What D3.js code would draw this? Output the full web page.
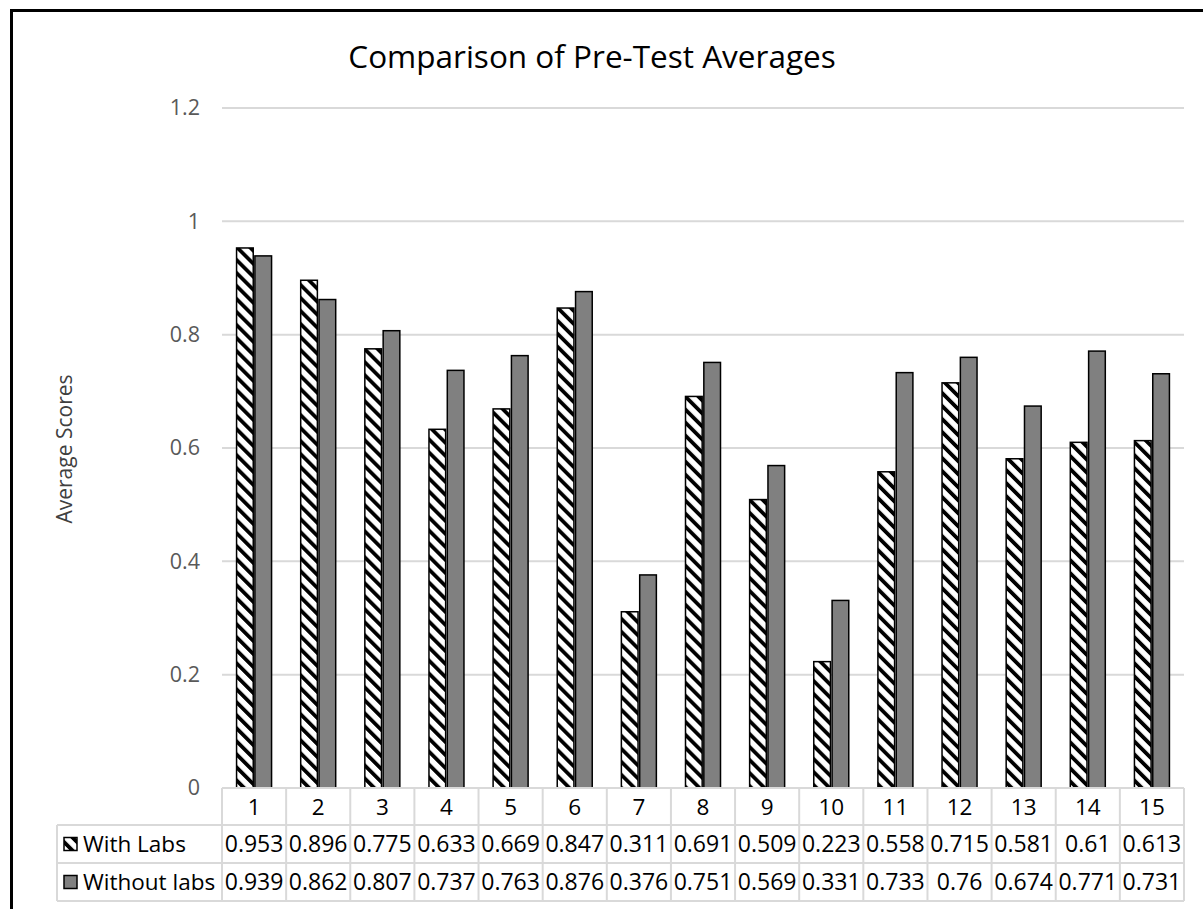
<!DOCTYPE html>
<html>
<head>
<meta charset="utf-8">
<script src="https://cdn.jsdelivr.net/npm/d3@7"></script>
<style>
  html, body { margin: 0; padding: 0; background: #fff; }
  svg { display: block; font-family: "Open Sans", "Liberation Sans", Arial, sans-serif; }
</style>
</head>
<body>
<svg id="chart" width="1203" height="909"></svg>
<script>
const categories = ["1","2","3","4","5","6","7","8","9","10","11","12","13","14","15"];
const withLabs    = [0.953,0.896,0.775,0.633,0.669,0.847,0.311,0.691,0.509,0.223,0.558,0.715,0.581,0.61,0.613];
const withoutLabs = [0.939,0.862,0.807,0.737,0.763,0.876,0.376,0.751,0.569,0.331,0.733,0.76,0.674,0.771,0.731];
const seriesNames = ["With Labs","Without labs"];
const yTicks = [0,0.2,0.4,0.6,0.8,1,1.2];

(function () {
const svg = d3.select("#chart");
const defs = svg.append("defs");
const pat = defs.append("pattern")
  .attr("id","hatch")
  .attr("patternUnits","userSpaceOnUse")
  .attr("width",9.2).attr("height",9.2)
  .attr("patternTransform","rotate(-45)");
pat.append("rect").attr("width",9.2).attr("height",9.2).attr("fill","#fff");
pat.append("rect").attr("x",0).attr("width",3.8).attr("height",9.2).attr("fill","#000");

const fills = ["url(#hatch)","#808080"];
const seriesData = [withLabs, withoutLabs];

// outer border
svg.append("rect").attr("x",11.5).attr("y",10.5).attr("width",1200).attr("height",905)
  .attr("fill","none").attr("stroke","#000").attr("stroke-width",3);

const pLeft = 222, pRight = 1184, pTop = 108, pBottom = 788;
const y = d3.scaleLinear().domain([0,1.2]).range([pBottom, pTop]);
const x0 = d3.scaleBand().domain(categories).range([pLeft, pRight]).padding(0);
const groupW = 35;
const x1 = d3.scaleBand().domain(seriesNames).range([0, groupW]).paddingInner(0.09);

// gridlines
svg.append("g").selectAll("line").data(yTicks.filter(d => d > 0)).join("line")
  .attr("x1",pLeft).attr("x2",pRight)
  .attr("y1",d => y(d)).attr("y2",d => y(d))
  .attr("stroke","#d9d9d9").attr("stroke-width",2);

// y axis labels
const yAxis = d3.axisLeft(y).tickValues(yTicks).tickSize(0).tickPadding(0).tickFormat(d => String(d));
const gy = svg.append("g").attr("transform","translate(200,0)").call(yAxis);
gy.select(".domain").remove();
gy.selectAll("text").attr("font-size",21.5).attr("fill","#595959")
  .attr("font-family","'Open Sans', 'Liberation Sans', Arial, sans-serif");

// bars
seriesNames.forEach((s, si) => {
  svg.append("g").selectAll("rect").data(categories).join("rect")
    .attr("x", c => x0(c) + (x0.bandwidth() - groupW)/2 + x1(s))
    .attr("width", x1.bandwidth())
    .attr("y", (c,i) => y(seriesData[si][i]))
    .attr("height", (c,i) => pBottom - y(seriesData[si][i]))
    .attr("fill", fills[si])
    .attr("stroke","#000").attr("stroke-width",1.5);
});

// title
svg.append("text").attr("x",592).attr("y",68).attr("text-anchor","middle")
  .attr("font-size",31.5).attr("fill","#000").text("Comparison of Pre-Test Averages");

// y axis title
svg.append("text").attr("transform","translate(72,449) rotate(-90)")
  .attr("text-anchor","middle").attr("font-size",21).attr("fill","#404040").text("Average Scores");

// data table
const rowY = [788, 825, 863, 901];
const tableLeft = 57;
const tg = svg.append("g");
const gridC = "#d9d9d9";
tg.append("line").attr("x1",pLeft).attr("x2",pRight).attr("y1",rowY[0]).attr("y2",rowY[0]).attr("stroke",gridC).attr("stroke-width",2);
[1,2,3].forEach(k => tg.append("line").attr("x1",tableLeft).attr("x2",pRight).attr("y1",rowY[k]).attr("y2",rowY[k]).attr("stroke",gridC).attr("stroke-width",2));
const bounds = categories.map(c => x0(c)).concat([pRight]);
tg.selectAll("line.v").data(bounds).join("line").attr("class","v")
  .attr("x1",d => d).attr("x2",d => d).attr("y1",rowY[0]).attr("y2",rowY[3])
  .attr("stroke",gridC).attr("stroke-width",2);
tg.append("line").attr("x1",tableLeft).attr("x2",tableLeft).attr("y1",rowY[1]).attr("y2",rowY[3]).attr("stroke",gridC).attr("stroke-width",2);

tg.selectAll("text.h").data(categories).join("text").attr("class","h")
  .attr("x", c => x0(c) + x0.bandwidth()/2).attr("y", (rowY[0]+rowY[1])/2)
  .attr("dy","0.36em").attr("text-anchor","middle").attr("font-size",22.5).attr("fill","#000")
  .text(c => c);

seriesNames.forEach((s, si) => {
  const cy = (rowY[si+1] + rowY[si+2]) / 2;
  tg.append("rect").attr("x",64).attr("y",cy-6.5).attr("width",13).attr("height",13)
    .attr("fill",fills[si]).attr("stroke","#000").attr("stroke-width",1.5);
  tg.append("text").attr("x",83).attr("y",cy).attr("dy","0.36em").attr("font-size",22.5).attr("fill","#000").text(s);
  tg.selectAll(null).data(seriesData[si]).join("text")
    .attr("x",(d,i) => x0(categories[i]) + x0.bandwidth()/2).attr("y",cy).attr("dy","0.36em")
    .attr("text-anchor","middle").attr("font-size",23).attr("fill","#000")
    .text(d => String(d));
});
})();
</script>
</body>
</html>
